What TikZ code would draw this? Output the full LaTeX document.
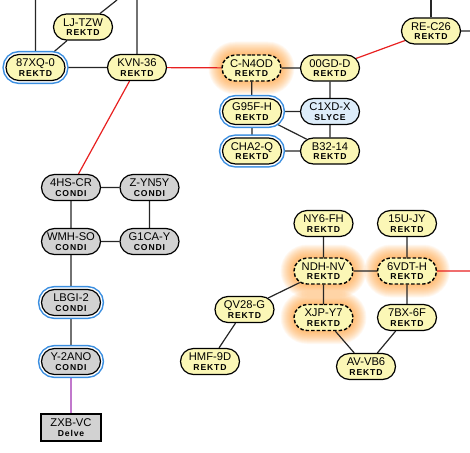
\documentclass[tikz,border=0pt]{standalone}
\usepackage{fontspec}
\setmainfont{Liberation Sans}
\newfontfamily\subfont[LetterSpace=10]{Liberation Sans}
\usetikzlibrary{shapes.misc,backgrounds}
\definecolor{yel}{HTML}{FBF7B6}
\definecolor{gry}{HTML}{D2D2D2}
\definecolor{lblue}{HTML}{DDEDFA}
\definecolor{ringblue}{HTML}{3A8EE0}
\definecolor{glowc}{HTML}{FF9A2E}
\definecolor{redl}{HTML}{E82020}
\definecolor{purl}{HTML}{A030B0}
\pgfdeclarelayer{glow}
\pgfsetlayers{glow,background,main}
\newcommand\lbl[2]{#1\\{\subfont\bfseries\fontsize{8.6}{9.5}\selectfont #2}}
\tikzset{
  nd/.style={rounded rectangle, draw=black, line width=1.2pt, minimum width=59pt,
    minimum height=26pt, inner sep=0pt, align=center,
    font=\fontsize{11.2}{9.5}\selectfont},
  rek/.style={nd, fill=yel},
  con/.style={nd, fill=gry},
  sly/.style={nd, fill=lblue},
  dlv/.style={rectangle, draw=black, line width=1.2pt, fill=gry, minimum width=60pt,
    minimum height=27pt, inner sep=0pt, align=center,
    font=\fontsize{11.2}{9.5}\selectfont},
  ring/.style={preaction={draw=ringblue, line width=7.2pt},
    preaction={draw=white, line width=4.2pt}},
  dsh/.style={dash pattern=on 3.5pt off 2pt, line width=1.4pt},
  edge/.style={line width=1.2pt, draw=black!85},
  redge/.style={line width=1.2pt, draw=redl},
  pedge/.style={line width=1.2pt, draw=purl},
}
\begin{document}
\begin{tikzpicture}[x=1pt,y=-1pt]
\useasboundingbox (0,0) rectangle (470,452);
% top left
\node[rek] (ljtzw) at (83,27) {\lbl{LJ-TZW}{REKTD}};
\node[rek,ring] (xq) at (35.5,67.5) {\lbl{87XQ-0}{REKTD}};
\node[rek] (kvn) at (137,67.5) {\lbl{KVN-36}{REKTD}};
\node[rek,dsh] (cn4od) at (251.5,68) {\lbl{C-N4OD}{REKTD}};
\node[rek] (gdd) at (330,68) {\lbl{00GD-D}{REKTD}};
\node[rek] (rec) at (431,31) {\lbl{RE-C26}{REKTD}};
\node[rek,ring] (g95) at (252,111.5) {\lbl{G95F-H}{REKTD}};
\node[sly] (c1xd) at (330,111.5) {\lbl{C1XD-X}{SLYCE}};
\node[rek,ring] (cha) at (252,151) {\lbl{CHA2-Q}{REKTD}};
\node[rek] (b32) at (330,151) {\lbl{B32-14}{REKTD}};
% left column
\node[con] (hs) at (71,187.5) {\lbl{4HS-CR}{CONDI}};
\node[con] (zyn) at (149.5,187.5) {\lbl{Z-YN5Y}{CONDI}};
\node[con] (wmh) at (71,241.5) {\lbl{WMH-SO}{CONDI}};
\node[con] (g1ca) at (149.5,241.5) {\lbl{G1CA-Y}{CONDI}};
\node[con,ring] (lbgi) at (71,302.5) {\lbl{LBGI-2}{CONDI}};
\node[con,ring] (y2a) at (71,361.5) {\lbl{Y-2ANO}{CONDI}};
\node[dlv] (zxb) at (71,427.5) {\lbl{ZXB-VC}{Delve}};
% bottom right
\node[rek] (ny6) at (323.5,223.5) {\lbl{NY6-FH}{REKTD}};
\node[rek] (u15) at (407,223.5) {\lbl{15U-JY}{REKTD}};
\node[rek,dsh] (ndh) at (323.5,271) {\lbl{NDH-NV}{REKTD}};
\node[rek,dsh] (vdt) at (407,271) {\lbl{6VDT-H}{REKTD}};
\node[rek] (qv) at (244.5,309.5) {\lbl{QV28-G}{REKTD}};
\node[rek,dsh] (xjp) at (323.5,317.5) {\lbl{XJP-Y7}{REKTD}};
\node[rek] (bx7) at (407,317.5) {\lbl{7BX-6F}{REKTD}};
\node[rek] (hmf) at (210,361.5) {\lbl{HMF-9D}{REKTD}};
\node[rek] (avb) at (366,366.5) {\lbl{AV-VB6}{REKTD}};
% free ends
\coordinate (t1) at (35.5,0);
\coordinate (t2) at (117,0);
\coordinate (t3) at (137,0);
\coordinate (t4) at (431,0);
\coordinate (r1) at (470,31);
\coordinate (r2) at (470,271);
% glow
\begin{pgfonlayer}{glow}
\foreach \n in {cn4od,ndh,vdt,xjp}{
  \foreach \k in {1,...,18}{
    \pgfmathsetmacro\w{59+1.5*\k}
    \pgfmathsetmacro\h{26+1.5*\k}
    \node[rounded rectangle, fill=glowc, opacity=0.055, inner sep=0pt,
      minimum width=\w pt, minimum height=\h pt] at (\n) {};
  }
}
\end{pgfonlayer}
% edges
\begin{pgfonlayer}{background}
\draw[edge] (xq) -- (t1);
\draw[edge] (ljtzw) -- (t2);
\draw[edge] (kvn) -- (t3);
\draw[edge] (rec) -- (t4);
\draw[edge] (rec) -- (r1);
\draw[edge] (ljtzw) -- (xq);
\draw[edge] (xq) -- (kvn);
\draw[redge] (kvn) -- (cn4od);
\draw[redge] (kvn) -- (hs);
\draw[redge] (gdd) -- (rec);
\draw[edge] (cn4od) -- (gdd);
\draw[edge] (cn4od) -- (g95);
\draw[edge] (gdd) -- (c1xd);
\draw[edge] (g95) -- (c1xd);
\draw[edge] (g95) -- (cha);
\draw[edge] (g95) -- (b32);
\draw[edge] (c1xd) -- (b32);
\draw[edge] (cha) -- (b32);
\draw[edge] (hs) -- (zyn);
\draw[edge] (hs) -- (wmh);
\draw[edge] (zyn) -- (g1ca);
\draw[edge] (wmh) -- (g1ca);
\draw[edge] (wmh) -- (lbgi);
\draw[edge] (lbgi) -- (y2a);
\draw[pedge] (y2a) -- (zxb);
\draw[edge] (ny6) -- (ndh);
\draw[edge] (u15) -- (vdt);
\draw[edge] (ndh) -- (vdt);
\draw[edge] (ndh) -- (xjp);
\draw[edge] (ndh) -- (qv);
\draw[edge] (vdt) -- (bx7);
\draw[redge] (vdt) -- (r2);
\draw[edge] (qv) -- (hmf);
\draw[edge] (xjp) -- (avb);
\draw[edge] (bx7) -- (avb);
\end{pgfonlayer}
\end{tikzpicture}
\end{document}
